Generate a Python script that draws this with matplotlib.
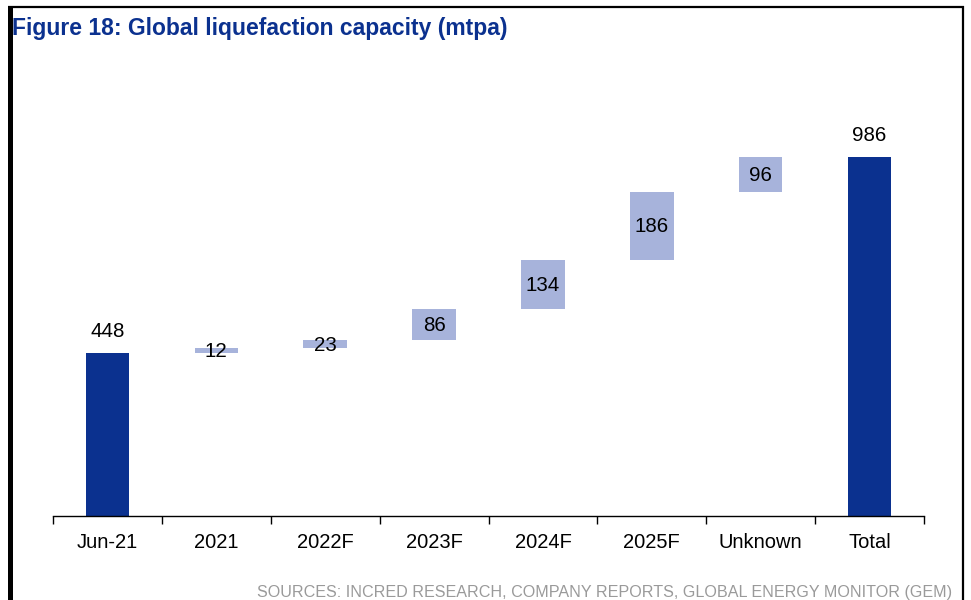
import matplotlib
matplotlib.use("Agg")
import matplotlib.pyplot as plt
from matplotlib.lines import Line2D

plt.rcParams['font.family'] = ['Liberation Sans', 'DejaVu Sans']

categories = ["Jun-21", "2021", "2022F", "2023F", "2024F", "2025F", "Unknown", "Total"]
start_value = 448
increments = [12, 23, 86, 134, 186, 96]
total_value = 986

dark = "#0B318F"
light = "#A7B3DB"

fig = plt.figure(figsize=(9.71, 6.0), dpi=100)
ax = fig.add_axes([53/971, 1 - 516/600, (924 - 53)/971, (516 - 60)/600])

x = list(range(len(categories)))
w = 0.4
lab_fs = 14.8

# start bar
ax.bar(x[0], start_value, width=w, color=dark)
ax.text(x[0], start_value + 31, str(start_value), ha='center', va='bottom', fontsize=lab_fs)

cum = start_value
for i, inc in enumerate(increments):
    xi = x[i + 1]
    ax.bar(xi, inc, bottom=cum, width=w, color=light)
    ax.text(xi, cum + inc / 2 - 3, str(inc), ha='center', va='center', fontsize=lab_fs)
    cum += inc

ax.bar(x[-1], total_value, width=w, color=dark)
ax.text(x[-1], total_value + 31, str(total_value), ha='center', va='bottom', fontsize=lab_fs)

ax.set_xlim(-0.5, len(categories) - 0.5)
ax.set_ylim(0, (516 - 60) / 0.3646)
for s in ['top', 'right', 'left']:
    ax.spines[s].set_visible(False)
ax.spines['bottom'].set_linewidth(1.0)
ax.set_yticks([])
ax.set_xticks([i - 0.5 for i in range(len(categories) + 1)], minor=False)
ax.set_xticklabels([])
ax.set_xticks(x, minor=True)
ax.set_xticklabels(categories, minor=True, fontsize=14.5)
ax.tick_params(axis='x', which='major', direction='out', length=6, width=1)
ax.tick_params(axis='x', which='minor', length=0, pad=12.5)

fig.text(12/971, 1 - 29/600, "Figure 18: Global liquefaction capacity (mtpa)",
         fontsize=16.5, fontweight='bold', color='#0B318F', ha='left', va='center')
fig.text(952/971, 1 - 592/600,
         "SOURCES: INCRED RESEARCH, COMPANY REPORTS, GLOBAL ENERGY MONITOR (GEM)",
         fontsize=11.6, color='#9A9A9A', ha='right', va='center')

# frame
fig.add_artist(Line2D([9.5/971, 9.5/971], [0, 1 - 6/600], transform=fig.transFigure,
                      color='black', linewidth=3.6, solid_capstyle='butt'))
fig.add_artist(Line2D([8/971, 964/971], [1 - 7/600, 1 - 7/600], transform=fig.transFigure,
                      color='black', linewidth=1.6, solid_capstyle='butt'))
fig.add_artist(Line2D([963/971, 963/971], [0, 1 - 6/600], transform=fig.transFigure,
                      color='black', linewidth=1.6, solid_capstyle='butt'))

fig.savefig("out.png", dpi=100)
